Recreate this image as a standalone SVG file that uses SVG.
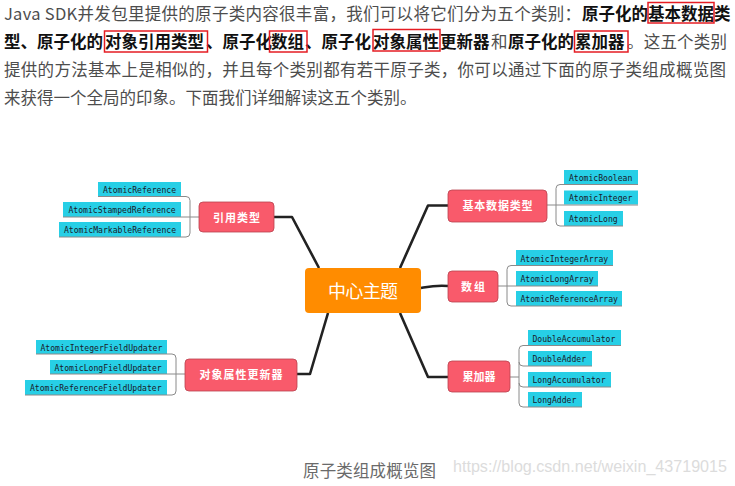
<svg xmlns="http://www.w3.org/2000/svg" width="735" height="486" viewBox="0 0 735 486">
<style>
.p{font-family:"Microsoft YaHei","Noto Sans CJK SC",sans-serif;font-size:16.5px;fill:#4d4d4d}
.b{font-weight:bold;fill:#111}
.box{fill:none;stroke:#e51c23;stroke-width:1.5}
.conn{fill:none;stroke:#222;stroke-width:2.6;stroke-linejoin:round}
.br{fill:none;stroke:#8a8a8a;stroke-width:1}
.center rect{fill:#ff8c00}
.center text{font-family:"Noto Sans CJK SC",sans-serif;font-size:18px;fill:#fff;text-anchor:middle}
.branch rect{fill:#f95a6b;stroke:#b9424f;stroke-width:0.8}
.branch text{font-family:"Noto Sans CJK SC",sans-serif;font-size:11px;fill:#fff;text-anchor:middle;font-weight:bold}
.leaf rect{fill:#27cfe6}
.leaf text{font-family:"DejaVu Sans Mono",monospace;font-size:8.1px;fill:#1a1a2a}
.cap{font-family:"Noto Sans CJK SC",sans-serif;font-size:16.5px;fill:#6a6a6a}
.wm{font-family:"Liberation Sans",Arial,sans-serif;font-size:16px;fill:#dcdcdc}
</style>
<rect width="735" height="486" fill="#fff"/>
<g id="paragraph">
<text class="p" x="4" y="20" textLength="577" lengthAdjust="spacing">Java SDK并发包里提供的原子类内容很丰富，我们可以将它们分为五个类别：</text>
<text class="p b" x="582" y="20">原子化的</text>
<text class="p b" x="648" y="20">基本数据</text>
<text class="p b" x="714" y="20">类</text>
<text class="p b" x="4" y="48">型、原子化的</text>
<text class="p b" x="105" y="48">对象引用类型</text>
<text class="p b" x="206" y="48">、原子化</text>
<text class="p b" x="271" y="48">数组</text>
<text class="p b" x="305" y="48">、原子化</text>
<text class="p b" x="373" y="48">对象属性</text>
<text class="p b" x="440" y="48">更新器</text>
<text class="p" x="491" y="48">和</text>
<text class="p b" x="508" y="48">原子化的</text>
<text class="p b" x="575" y="48">累加器</text>
<text class="p" x="627" y="48" textLength="100" lengthAdjust="spacing">。这五个类别</text>
<text class="p" x="4" y="76" textLength="722" lengthAdjust="spacing">提供的方法基本上是相似的，并且每个类别都有若干原子类，你可以通过下面的原子类组成概览图</text>
<text class="p" x="4" y="104">来获得一个全局的印象。下面我们详细解读这五个类别。</text>
<rect class="box" x="648" y="2.5" width="66" height="20.5"/>
<rect class="box" x="104.5" y="31" width="103" height="21"/>
<rect class="box" x="269.5" y="31" width="37.5" height="21"/>
<rect class="box" x="373" y="29.5" width="67" height="21.5"/>
<rect class="box" x="574.5" y="31" width="53.5" height="21"/>
</g>
<g id="connectors">
<path class="conn" d="M274,217 H292 L319,268"/>
<path class="conn" d="M448,205.5 H428 L400,268"/>
<path class="conn" d="M421,288 C432,286 436,285 448,286"/>
<path class="conn" d="M297,374 H310 L328,313"/>
<path class="conn" d="M448,377 H428 L400,313"/>
<path class="br" d="M181,196.5 H186 Q190,196.5 190,200.5 V233 Q190,237 186,237 H181 M181,217 H199"/>
<path class="br" d="M564,184.5 H560 Q556,184.5 556,188.5 V222 Q556,226 560,226 H564 M547,205 H564"/>
<path class="br" d="M516,265.5 H511 Q507,265.5 507,269.5 V302 Q507,306 511,306 H516 M498,286 H516"/>
<path class="br" d="M167,354 H172 Q176,354 176,358 V391 Q176,395 172,395 H167 M167,374 H185"/>
<path class="br" d="M528,345.5 H523 Q519,345.5 519,349.5 V403 Q519,407 523,407 H528 M519,362 Q519,366 523,366 H528 M519,383 Q519,387 523,387 H528 M510,377 H519"/>
</g>
<g id="center" class="center"><rect x="305" y="268" width="116" height="45" rx="4"/><text x="363" y="298" textLength="70" lengthAdjust="spacing">中心主题</text></g>
<g id="b-ref" class="branch"><rect x="199" y="202" width="75" height="30" rx="4"/><text x="236.5" y="221.5" textLength="47" lengthAdjust="spacing">引用类型</text></g>
<g id="b-basic" class="branch"><rect x="448" y="190" width="99" height="32" rx="4"/><text x="497.5" y="210" textLength="70" lengthAdjust="spacing">基本数据类型</text></g>
<g id="b-array" class="branch"><rect x="448" y="271" width="50" height="31" rx="4"/><text x="473" y="290.5" textLength="24" lengthAdjust="spacing">数组</text></g>
<g id="b-field" class="branch"><rect x="185" y="359" width="112" height="32" rx="4"/><text x="241" y="379" textLength="83" lengthAdjust="spacing">对象属性更新器</text></g>
<g id="b-acc" class="branch"><rect x="448" y="361" width="62" height="31" rx="4"/><text x="479" y="380.5" textLength="33" lengthAdjust="spacing">累加器</text></g>
<g id="l-ref1" class="leaf"><rect x="98" y="182" width="83" height="14"/><path class="br" d="M98,196.5 H181"/><text x="103" y="192.5">AtomicReference</text></g>
<g id="l-ref2" class="leaf"><rect x="63" y="202" width="118" height="15"/><path class="br" d="M63,217 H181"/><text x="68.5" y="213">AtomicStampedReference</text></g>
<g id="l-ref3" class="leaf"><rect x="59" y="222" width="122" height="15"/><path class="br" d="M59,237 H181"/><text x="64" y="233">AtomicMarkableReference</text></g>
<g id="l-b1" class="leaf"><rect x="564" y="170" width="74" height="14"/><path class="br" d="M564,184.5 H638"/><text x="569" y="180.5">AtomicBoolean</text></g>
<g id="l-b2" class="leaf"><rect x="564" y="190.5" width="74" height="14"/><path class="br" d="M564,205 H638"/><text x="569" y="201">AtomicInteger</text></g>
<g id="l-b3" class="leaf"><rect x="564" y="211" width="59" height="15"/><path class="br" d="M564,226 H623"/><text x="569" y="222">AtomicLong</text></g>
<g id="l-a1" class="leaf"><rect x="516" y="250" width="97" height="15.5"/><path class="br" d="M516,265.5 H613"/><text x="520.5" y="261.5">AtomicIntegerArray</text></g>
<g id="l-a2" class="leaf"><rect x="516" y="271" width="82" height="15"/><path class="br" d="M516,286 H598"/><text x="520.5" y="282">AtomicLongArray</text></g>
<g id="l-a3" class="leaf"><rect x="516" y="291" width="106" height="15"/><path class="br" d="M516,306 H622"/><text x="520.5" y="302">AtomicReferenceArray</text></g>
<g id="l-f1" class="leaf"><rect x="36" y="340" width="131" height="14"/><path class="br" d="M36,354 H167"/><text x="40.5" y="350.5">AtomicIntegerFieldUpdater</text></g>
<g id="l-f2" class="leaf"><rect x="50" y="360" width="117" height="14"/><path class="br" d="M50,374 H167"/><text x="54.5" y="370.5">AtomicLongFieldUpdater</text></g>
<g id="l-f3" class="leaf"><rect x="25" y="380" width="142" height="15"/><path class="br" d="M25,395 H167"/><text x="30" y="391">AtomicReferenceFieldUpdater</text></g>
<g id="l-c1" class="leaf"><rect x="528" y="330" width="93" height="15.5"/><path class="br" d="M528,345.5 H621"/><text x="532.5" y="341.5">DoubleAccumulator</text></g>
<g id="l-c2" class="leaf"><rect x="528" y="351" width="64" height="15"/><path class="br" d="M528,366 H592"/><text x="532.5" y="362">DoubleAdder</text></g>
<g id="l-c3" class="leaf"><rect x="528" y="372" width="83" height="15"/><path class="br" d="M528,387 H611"/><text x="532.5" y="383">LongAccumulator</text></g>
<g id="l-c4" class="leaf"><rect x="528" y="392" width="54" height="15"/><path class="br" d="M528,407 H582"/><text x="532.5" y="403">LongAdder</text></g>
<g id="caption"><text class="cap" x="303" y="477" textLength="133" lengthAdjust="spacing">原子类组成概览图</text>
<text class="wm" x="453" y="472" textLength="274" lengthAdjust="spacingAndGlyphs">https://blog.csdn.net/weixin_43719015</text></g>
</svg>
